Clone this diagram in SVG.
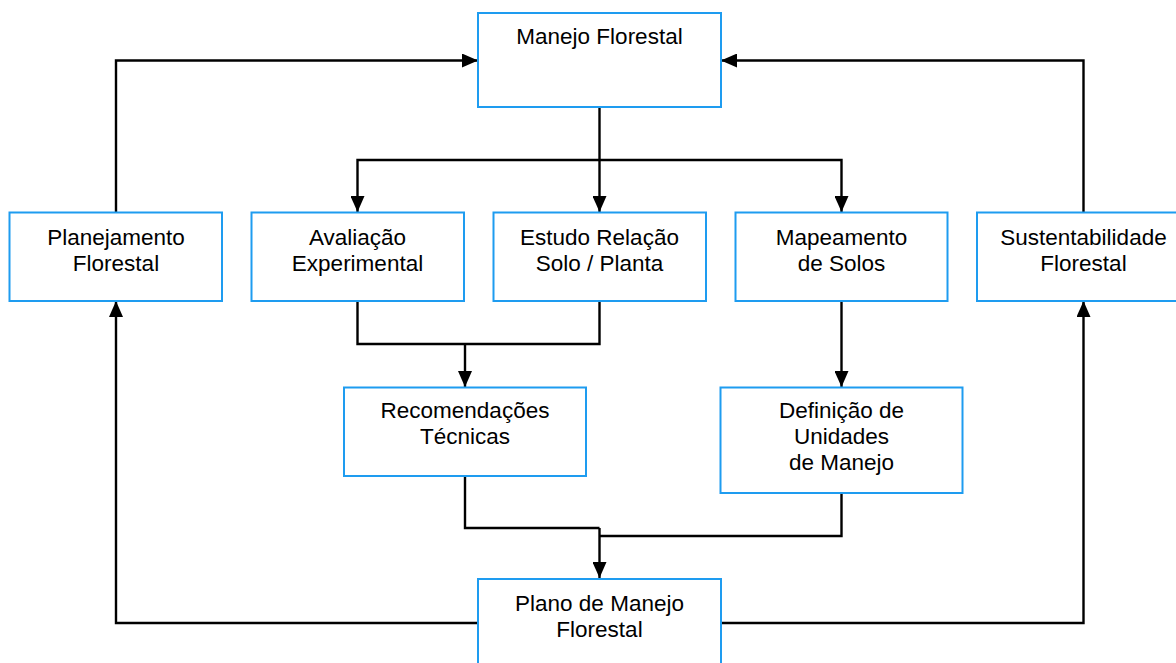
<svg xmlns="http://www.w3.org/2000/svg" width="1176" height="663" viewBox="0 0 1176 663">
<style>
.box{fill:#fff;stroke:#1e9cf0;stroke-width:2}
.t{font-family:"Liberation Sans",Arial,sans-serif;font-size:22.5px;fill:#000;text-anchor:middle}
.c{fill:none;stroke:#000;stroke-width:2.4}
</style>
<defs>
<marker id="ah" viewBox="0 0 16 14" refX="16" refY="7" markerWidth="16" markerHeight="14" markerUnits="userSpaceOnUse" orient="auto">
<path d="M0,0 L16,7 L0,14 z" fill="#000"/>
</marker>
</defs>
<rect width="1176" height="663" fill="#fff"/>
<g id="connectors">
<path class="c" d="M116,212 V60.5 H478" marker-end="url(#ah)"/>
<path class="c" d="M1083.5,212 V60.5 H721" marker-end="url(#ah)"/>
<path class="c" d="M599.5,107 V212" marker-end="url(#ah)"/>
<path class="c" d="M599.5,160 H357.5 V212" marker-end="url(#ah)"/>
<path class="c" d="M599.5,160 H841.5 V212" marker-end="url(#ah)"/>
<path class="c" d="M357.5,301 V344 H599.5 V301"/>
<path class="c" d="M465,344 V387" marker-end="url(#ah)"/>
<path class="c" d="M841.5,301 V387" marker-end="url(#ah)"/>
<path class="c" d="M465,476 V528 H599.5"/>
<path class="c" d="M841.5,493 V536 H599.5"/>
<path class="c" d="M599.5,528 V578" marker-end="url(#ah)"/>
<path class="c" d="M478,623 H116 V301" marker-end="url(#ah)"/>
<path class="c" d="M721,623 H1083.5 V301" marker-end="url(#ah)"/>
</g>
<g id="manejo">
<rect class="box" x="478" y="13" width="243" height="94"/>
<text class="t" x="599.5" y="43.5">Manejo Florestal</text>
</g>
<g id="planejamento">
<rect class="box" x="9.5" y="212.5" width="212.5" height="88.5"/>
<text class="t" x="116" y="244.5">Planejamento</text>
<text class="t" x="116" y="270.5">Florestal</text>
</g>
<g id="avaliacao">
<rect class="box" x="251.5" y="212.5" width="212.5" height="88.5"/>
<text class="t" x="357.5" y="244.5">Avaliação</text>
<text class="t" x="357.5" y="270.5">Experimental</text>
</g>
<g id="estudo">
<rect class="box" x="493.5" y="212.5" width="212.5" height="88.5"/>
<text class="t" x="599.5" y="244.5">Estudo Relação</text>
<text class="t" x="599.5" y="270.5">Solo / Planta</text>
</g>
<g id="mapeamento">
<rect class="box" x="735.5" y="212.5" width="212" height="88.5"/>
<text class="t" x="841.5" y="244.5">Mapeamento</text>
<text class="t" x="841.5" y="270.5">de Solos</text>
</g>
<g id="sustentabilidade">
<rect class="box" x="977" y="212.5" width="213" height="88.5"/>
<text class="t" x="1083.5" y="244.5">Sustentabilidade</text>
<text class="t" x="1083.5" y="270.5">Florestal</text>
</g>
<g id="recomendacoes">
<rect class="box" x="344" y="387.5" width="242" height="88.5"/>
<text class="t" x="465" y="417.5">Recomendações</text>
<text class="t" x="465" y="443.5">Técnicas</text>
</g>
<g id="definicao">
<rect class="box" x="720.5" y="387.5" width="242" height="105.5"/>
<text class="t" x="841.5" y="417.5">Definição de</text>
<text class="t" x="841.5" y="443.5">Unidades</text>
<text class="t" x="841.5" y="469.5">de Manejo</text>
</g>
<g id="plano">
<rect class="box" x="478" y="579" width="243" height="100"/>
<text class="t" x="599.5" y="610.5">Plano de Manejo</text>
<text class="t" x="599.5" y="636.5">Florestal</text>
</g>
</svg>
